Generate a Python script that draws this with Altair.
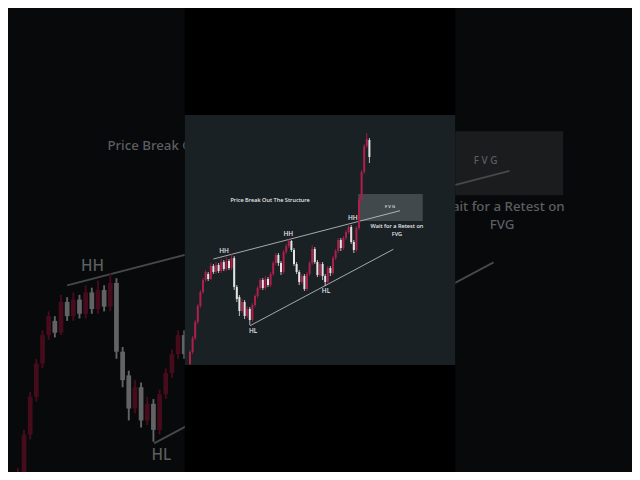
import altair as alt
import pandas as pd

# ---------------- data (price units, bar index) ----------------
idx = list(range(70))
opens = [1, 13, 27, 43, 59, 73, 85, 91, 86, 99, 93, 100, 94, 103, 96, 104, 97, 107, 78, 68,
         54, 63, 49, 56, 45, 60, 69, 77, 85, 77, 86, 80, 91, 102, 110, 102, 93, 113, 119, 124,
         115, 101, 93, 83, 89, 76, 91, 102, 116, 103, 90, 101, 89, 83, 97, 92, 107, 114, 125, 117,
         127, 133, 138, 123, 115, 137, 165, 193, 219, 225]
closes = [13, 27, 43, 59, 73, 85, 93, 86, 99, 93, 100, 94, 103, 96, 104, 97, 107, 78, 66, 54,
          63, 49, 56, 45, 60, 69, 77, 85, 77, 86, 80, 91, 102, 110, 102, 93, 113, 119, 124, 115,
          101, 93, 83, 89, 76, 91, 102, 116, 103, 90, 101, 89, 83, 97, 92, 107, 114, 125, 117, 127,
          133, 138, 123, 115, 137, 165, 193, 219, 226, 208]
highs = [15, 29, 45, 61, 75, 87, 95, 93, 102, 101, 103, 102, 106, 105, 108, 106, 111, 109, 80, 70,
         66, 65, 59, 58, 62, 71, 79, 87, 87, 89, 88, 93, 104, 112, 112, 104, 115, 121, 126, 125,
         117, 103, 95, 91, 91, 93, 104, 120, 118, 105, 103, 103, 91, 99, 99, 109, 116, 127, 127, 129,
         135, 141, 140, 125, 139, 167, 195, 221, 232, 227]
lows = [0, 11, 25, 41, 57, 71, 83, 84, 85, 91, 91, 92, 92, 94, 94, 95, 95, 75, 63, 49,
        52, 46, 47, 40, 43, 58, 67, 75, 75, 75, 78, 78, 89, 100, 99, 90, 91, 111, 117, 113,
        99, 91, 80, 81, 74, 74, 89, 100, 101, 88, 88, 85, 79, 81, 89, 90, 105, 112, 114, 115,
        125, 131, 121, 112, 113, 135, 163, 191, 217, 202]

trend_x1 = [9.0, 23.1]
trend_y1 = [106.0, 39.3]
trend_x2 = [80.8, 78.2]
trend_y2 = [154.3, 115.7]

label_text = ["HH", "HH", "HH", "HL", "HL", "Price Break Out The Structure",
              "Wait for a Retest on", "FVG", "F V G"]
label_x = [13.1, 37.8, 62.6, 24.3, 52.3, 30.8, 79.6, 79.6, 76.9]
label_y = [114.3, 131.0, 147.3, 34.3, 74.3, 165.0, 139.0, 131.4, 158.3]
label_size = [6.5, 6.5, 6.5, 6.5, 6.5, 5.6, 5.6, 5.6, 4.2]

fvg_x1 = [64.7]
fvg_x2 = [89.5]
fvg_top = [171.0]
fvg_bottom = [144.0]

panel_x = [-2.0, 102.0]
panel_y = [0.0, 250.0]

candles = pd.DataFrame({"i": idx, "o": opens, "h": highs, "l": lows, "c": closes})
trends = pd.DataFrame({"x1": trend_x1, "y1": trend_y1, "x2": trend_x2, "y2": trend_y2})
labels = pd.DataFrame({"t": label_text, "x": label_x, "y": label_y, "fs": label_size})
fvg = pd.DataFrame({"x1": fvg_x1, "x2": fvg_x2, "y1": fvg_bottom, "y2": fvg_top})
panel = pd.DataFrame({"x1": [panel_x[0]], "x2": [panel_x[1]], "y1": [panel_y[0]], "y2": [panel_y[1]]})

W, H = 624, 464
K = 2.37  # enlargement of the blurred backdrop copy
BG = "#07090b"


def group(xs, ys, k, pal, front):
    def X(f):
        return alt.X(f, type="quantitative", scale=xs, axis=None)

    def Y(f):
        return alt.Y(f, type="quantitative", scale=ys, axis=None)

    up = "datum.c > datum.o"
    layers = []
    if front:
        layers.append(alt.Chart(panel).mark_rect(color="#000000").encode(
            x=X("x1"), x2="x2", y=alt.value(-8), y2=alt.value(H + 8)))
        layers.append(alt.Chart(panel).mark_rect(color=pal["panel"]).encode(
            x=X("x1"), x2="x2", y=Y("y1"), y2="y2"))
    else:
        layers.append(alt.Chart(panel).mark_rect(color=BG).encode(
            x=alt.value(-8), x2=alt.value(W + 8), y=alt.value(-8), y2=alt.value(H + 8)))
    layers.append(alt.Chart(fvg).mark_rect(color=pal["fvg"], opacity=pal["fvg_op"]).encode(
        x=X("x1"), x2="x2", y=Y("y1"), y2="y2"))
    layers.append(alt.Chart(trends).mark_rule(color=pal["line"], strokeWidth=0.8 * k).encode(
        x=X("x1"), y=Y("y1"), x2="x2", y2="y2"))
    layers.append(alt.Chart(candles).mark_rule(strokeWidth=0.8 * k).encode(
        x=X("i"), y=Y("l"), y2="h",
        color=alt.condition(up, alt.value(pal["red"]), alt.value(pal["white"]))))
    layers.append(alt.Chart(candles).mark_rule(strokeWidth=2.0 * k).encode(
        x=X("i"), y=Y("o"), y2="c",
        color=alt.condition(up, alt.value(pal["red"]), alt.value(pal["white"]))))
    layers.append(alt.Chart(labels).transform_calculate(fsk=f"datum.fs * {k}").mark_text(
        color=pal["text"], font="Noto Sans", fontWeight=500, align="center", baseline="middle").encode(
        x=X("x"), y=Y("y"), text="t:N", size=alt.Size("fsk:Q", scale=None)))
    return alt.layer(*layers)


fg_pal = {"panel": "#1a2125", "fvg": "#4a5055", "fvg_op": 0.85, "line": "#c9cbcd",
          "red": "#b01e4a", "white": "#e4e4e4", "text": "#eef0f2"}
bg_pal = {"panel": "#000000", "fvg": "#1b1c1e", "fvg_op": 1.0, "line": "#46484a",
          "red": "#460c1c", "white": "#626364", "text": "#5c5e60"}

fg_x = alt.Scale(domain=[-2, 102], range=[176.8, 447.2], nice=False, zero=False)
fg_y = alt.Scale(domain=[0, 250], range=[357, 107], nice=False, zero=False)
bg_x = alt.Scale(domain=[-2, 102], range=[-8.62, 632.2], nice=False, zero=False)
bg_y = alt.Scale(domain=[0, 250], range=[528.55, -63.95], nice=False, zero=False)

bg = group(bg_x, bg_y, K, bg_pal, False)
fg = group(fg_x, fg_y, 1.0, fg_pal, True)

chart = alt.layer(bg, fg).resolve_scale(x="independent", y="independent").properties(
    width=W, height=H, padding=0, autosize=alt.AutoSizeParams(type="none"),
    background=BG).configure_view(stroke=None)

chart.save("out.html", embed_options={"renderer": "svg", "actions": False})
